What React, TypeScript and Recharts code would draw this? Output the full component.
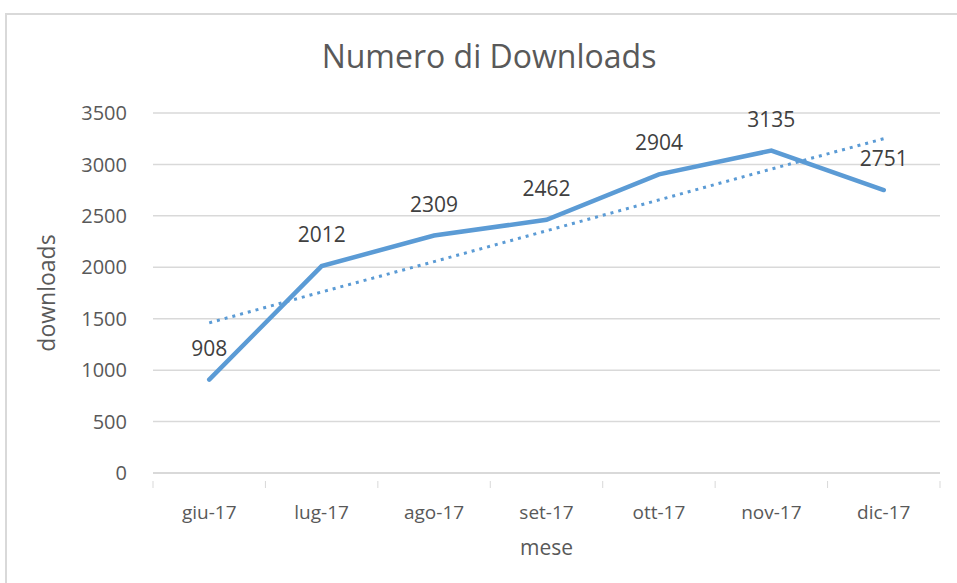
import React from 'react';
import { CartesianGrid, LabelList, Line, LineChart, XAxis, YAxis, Label } from 'recharts';

const months = ['giu-17', 'lug-17', 'ago-17', 'set-17', 'ott-17', 'nov-17', 'dic-17'];
const downloads = [908, 2012, 2309, 2462, 2904, 3135, 2751];
// dotted linear trend line
const trend = [1460, 1760, 2055, 2355, 2655, 2955, 3250];
const yTicks = [0, 500, 1000, 1500, 2000, 2500, 3000, 3500];

const chartData = months.map((month, i) => ({ month, downloads: downloads[i], trend: trend[i] }));

const FONT = '"Open Sans", sans-serif';
const TEXT = '#595959';
const GRID = '#d9d9d9';
const BLUE = '#5b9bd5';

const PLOT_LEFT = 153;
const PLOT_RIGHT = 940;
const BAND = (PLOT_RIGHT - PLOT_LEFT) / months.length;

const MonthTick = ({ x, y, payload, index }: any) => (
    <g>
        <line x1={x - BAND / 2} x2={x - BAND / 2} y1={y} y2={y + 7} stroke={GRID} strokeWidth={1} />
        {index === months.length - 1 && (
            <line x1={x + BAND / 2} x2={x + BAND / 2} y1={y} y2={y + 7} stroke={GRID} strokeWidth={1} />
        )}
        <text x={x} y={y + 38} textAnchor="middle" fill={TEXT} fontSize={19} fontFamily={FONT}>
            {payload.value}
        </text>
    </g>
);

const App: React.FC = () => {
    return (
        <div style={{ position: 'absolute', left: 0, top: 0, width: 957, height: 583, background: '#fff', overflow: 'hidden' }}>
            <div style={{ position: 'absolute', left: 5, top: 13, width: 980, height: 600, border: `2px solid ${GRID}`, boxSizing: 'border-box' }} />
            <div style={{ position: 'absolute', left: 0, width: 978, top: 34, textAlign: 'center', fontFamily: FONT, fontSize: 32, color: TEXT }}>
                Numero di Downloads
            </div>
            <div style={{ position: 'absolute', left: 0, top: 0 }}>
                <LineChart width={957} height={583} data={chartData} margin={{ top: 113, right: 957 - PLOT_RIGHT, bottom: 0, left: 0 }}>
                    <CartesianGrid horizontal vertical={false} stroke={GRID} strokeWidth={1.5} />
                    <XAxis
                        dataKey="month"
                        height={110}
                        padding={{ left: BAND / 2, right: BAND / 2 }}
                        axisLine={{ stroke: GRID, strokeWidth: 2 }}
                        tickLine={false}
                        tick={<MonthTick />}
                        interval={0}
                    >
                        <Label value="mese" position="insideBottom" offset={28} fill={TEXT} fontSize={21} fontFamily={FONT} />
                    </XAxis>
                    <YAxis
                        width={PLOT_LEFT}
                        domain={[0, 3500]}
                        ticks={yTicks}
                        axisLine={false}
                        tickLine={false}
                        tickMargin={20}
                        tick={{ fill: TEXT, fontSize: 20, fontFamily: FONT }}
                    >
                        <Label value="downloads" angle={-90} position="insideLeft" offset={47} textAnchor="middle" fill={TEXT} fontSize={23} fontFamily={FONT} />
                    </YAxis>
                    <Line
                        dataKey="trend"
                        stroke={BLUE}
                        strokeWidth={3}
                        strokeDasharray="3 5"
                        dot={false}
                        activeDot={false}
                        isAnimationActive={false}
                    />
                    <Line
                        dataKey="downloads"
                        stroke={BLUE}
                        strokeWidth={4.5}
                        strokeLinecap="round"
                        dot={false}
                        activeDot={false}
                        isAnimationActive={false}
                    >
                        <LabelList dataKey="downloads" position="top" offset={24} fill="#404040" fontSize={21} fontFamily={FONT} />
                    </Line>
                </LineChart>
            </div>
        </div>
    );
};

export default App;
